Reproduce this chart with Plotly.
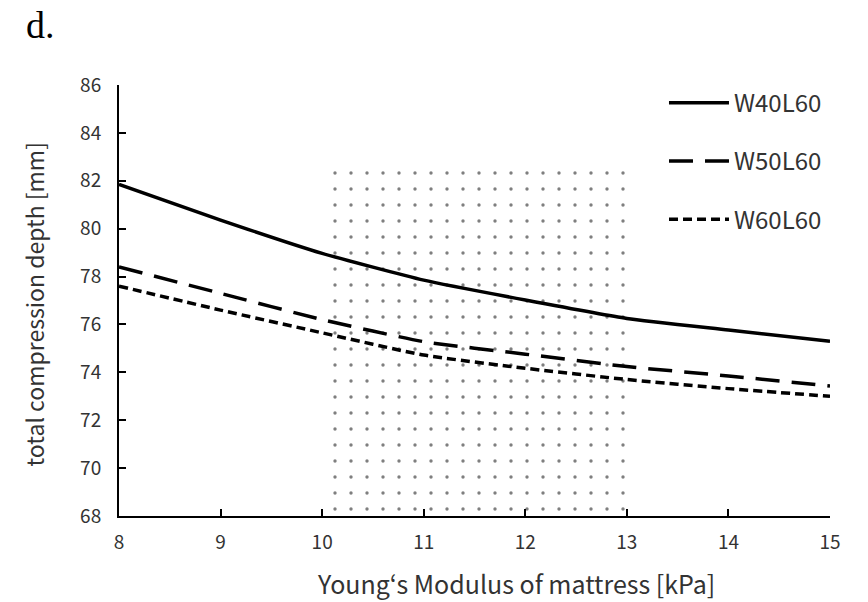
import plotly.graph_objects as go

modulus = [8, 9, 10, 11, 12, 13, 14, 15]
w40l60 = [81.85, 80.36, 78.97, 77.85, 77.02, 76.25, 75.77, 75.3]
w50l60 = [78.4, 77.3, 76.2, 75.28, 74.76, 74.24, 73.85, 73.43]
w60l60 = [77.6, 76.6, 75.65, 74.72, 74.17, 73.7, 73.32, 73.0]

band_x = [10, 13, 13, 10, 10]
band_y = [68, 68, 82.75, 82.75, 68]

x_title = "Young‘s Modulus of mattress [kPa]"
y_title = "total compression depth [mm]"
panel_label = "d."

font = "Noto Sans CJK JP"
txt = "#333"

fig = go.Figure()
fig.add_trace(go.Scatter(
    x=band_x, y=band_y, mode="lines", fill="toself",
    line=dict(width=0, color="rgba(0,0,0,0)"),
    fillcolor="white",
    fillpattern=dict(shape=".", fgcolor="black", bgcolor="white", size=16, solidity=0.035),
    showlegend=False, hoverinfo="skip"))

series = [("W40L60", w40l60, "solid"), ("W50L60", w50l60, "24px,12px"), ("W60L60", w60l60, "9px,5px")]
for name, vals, dash in series:
    fig.add_trace(go.Scatter(
        x=modulus, y=vals, mode="lines", name=name, legendgroup=name,
        line=dict(color="black", width=3.5, dash=dash, shape="spline", smoothing=0.5)))

fig.update_layout(
    width=868, height=602,
    margin=dict(l=119, r=38, t=85, b=86),
    paper_bgcolor="white", plot_bgcolor="white",
    font=dict(family=font, color=txt),
    legend=dict(x=0.7665, y=1.01, xanchor="left", yanchor="top", itemwidth=60,
                font=dict(size=24, family=font, color=txt),
                traceorder="grouped", tracegroupgap=24, bgcolor="rgba(0,0,0,0)"),
    xaxis=dict(range=[8, 15], tickvals=[8, 9, 10, 11, 12, 13, 14, 15],
               showline=True, linecolor="black", linewidth=2, ticks="inside", ticklen=7,
               tickwidth=2, tickcolor="black", showgrid=False, zeroline=False,
               automargin=False,
               tickfont=dict(size=19, family=font, color=txt),
               ticklabelstandoff=8),
    yaxis=dict(range=[68, 86], tickvals=[68, 70, 72, 74, 76, 78, 80, 82, 84, 86],
               showline=True, linecolor="black", linewidth=2, ticks="inside", ticklen=7,
               tickwidth=2, tickcolor="black", showgrid=False, zeroline=False,
               automargin=False,
               tickfont=dict(size=19, family=font, color=txt),
               ticklabelstandoff=12),
)
fig.add_annotation(text=x_title, xref="paper", yref="paper", x=0.558, y=-0.155,
                   xanchor="center", yanchor="middle", showarrow=False,
                   font=dict(size=25, family=font, color=txt))
fig.add_annotation(text=y_title, xref="paper", yref="paper", x=-0.12, y=0.49,
                   xanchor="center", yanchor="middle", showarrow=False, textangle=-90,
                   font=dict(size=23, family=font, color=txt))
fig.add_annotation(text=panel_label, xref="paper", yref="paper", x=-0.134, y=1.14,
                   xanchor="left", yanchor="middle", showarrow=False,
                   font=dict(family="Liberation Serif", size=38, color="black"))

fig.write_html("out.html", config={"displayModeBar": False},
               post_script="document.body.style.margin='0';")
